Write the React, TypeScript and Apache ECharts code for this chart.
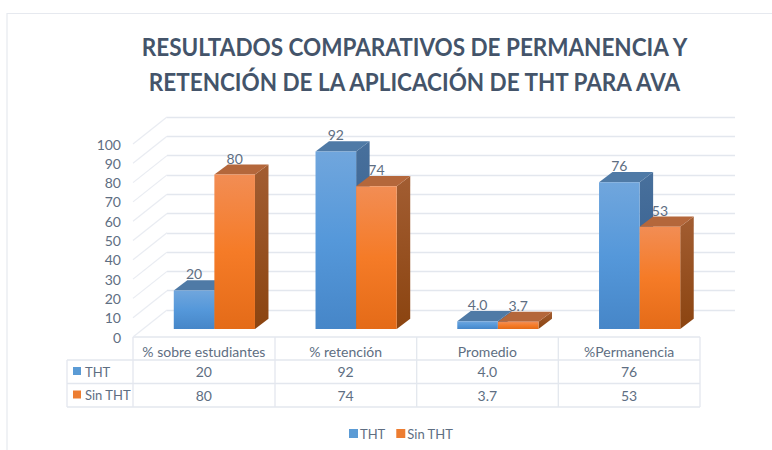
import React, { useEffect, useRef } from "react";
import * as echarts from "echarts";

const titleLines = ["RESULTADOS COMPARATIVOS DE PERMANENCIA Y", "RETENCIÓN DE LA APLICACIÓN DE THT PARA AVA"];
const categories = ["% sobre estudiantes", "% retención", "Promedio", "%Permanencia"];
const seriesNames = ["THT", "Sin THT"];
const thtValues = [20, 92, 4.0, 76];
const sinThtValues = [80, 74, 3.7, 53];
const thtLabels = ["20", "92", "4.0", "76"];
const sinThtLabels = ["80", "74", "3.7", "53"];
const yTicks = [0, 10, 20, 30, 40, 50, 60, 70, 80, 90, 100];

const FONT = "Lato";
const TEXT = "#5E6E82";
const GRID = "#E3E7EE";
const SWATCH = ["#5B9BD5", "#ED7D31"];

const vGrad = (stops: [number, string][]) =>
  new echarts.graphic.LinearGradient(0, 0, 0, 1, stops.map(([offset, color]) => ({ offset, color })));

const palettes = [
  {
    front: () => vGrad([[0, "#70A6DD"], [0.5, "#5598DA"], [1, "#4686C8"]]),
    top: "#4F7AA6",
    side: () => vGrad([[0, "#48709C"], [1, "#30598A"]]),
  },
  {
    front: () => vGrad([[0, "#F28D54"], [0.5, "#F57B27"], [1, "#E46B18"]]),
    top: "#B4673B",
    side: () => vGrad([[0, "#A25D32"], [1, "#8B4410"]]),
  },
];

const DEPTH_X = 13.5;
const DEPTH_Y = 10.2;
const BAR_W = 40.6;

const barRender = (which: number) => (_p: any, api: any) => {
  const idx = api.value(0);
  const val = api.value(1);
  const [cx, yTop] = api.coord([idx, val]);
  const [, y0] = api.coord([idx, 0]);
  const x0 = which === 0 ? cx - BAR_W : cx;
  const x1 = x0 + BAR_W;
  const p = palettes[which];
  return {
    type: "group",
    children: [
      {
        type: "polygon",
        shape: { points: [[x1, yTop], [x1 + DEPTH_X, yTop - DEPTH_Y], [x1 + DEPTH_X, y0 - DEPTH_Y], [x1, y0]] },
        style: { fill: p.side() },
      },
      {
        type: "polygon",
        shape: { points: [[x0, yTop], [x0 + DEPTH_X, yTop - DEPTH_Y], [x1 + DEPTH_X, yTop - DEPTH_Y], [x1, yTop]] },
        style: { fill: p.top },
      },
      { type: "rect", shape: { x: x0, y: yTop, width: BAR_W, height: y0 - yTop }, style: { fill: p.front() } },
    ],
  };
};

const labelRender = (which: number, texts: string[]) => (_p: any, api: any) => {
  const idx = api.value(0);
  const [cx, yTop] = api.coord([idx, api.value(1)]);
  return {
    type: "text",
    style: {
      x: which === 0 ? cx - BAR_W / 2 : cx + BAR_W / 2,
      y: yTop - 16.5,
      text: texts[idx],
      fill: TEXT,
      font: `14px ${FONT}`,
      textAlign: "center",
      textVerticalAlign: "middle",
    },
  };
};

const sideLineRender = (p: any, api: any) => {
  const [, y] = api.coord([0, api.value(0)]);
  const x = p.coordSys.x;
  return {
    type: "line",
    shape: { x1: x, y1: y, x2: x + 34, y2: y - 27 },
    style: { stroke: "#E9ECF2", lineWidth: 1.2 },
  };
};

const ROW_Y = [371.5, 395];
const tableRender = (_p: any, api: any) => {
  const idx = api.value(0);
  const row = api.value(1);
  const [cx] = api.coord([idx, 0]);
  const texts = row === 0 ? thtLabels : sinThtLabels;
  return {
    type: "text",
    style: {
      x: cx,
      y: ROW_Y[row],
      text: texts[idx],
      fill: TEXT,
      font: `14px ${FONT}`,
      textAlign: "center",
      textVerticalAlign: "middle",
    },
  };
};

const tableLines = () => {
  const line = (x1: number, y1: number, x2: number, y2: number) => ({
    type: "line",
    shape: { x1, y1, x2, y2 },
    style: { stroke: GRID, lineWidth: 1.3 },
    silent: true,
  });
  const out: any[] = [
    line(133, 337, 700, 337),
    line(67, 360, 700, 360),
    line(67, 383.5, 700, 383.5),
    line(67, 407, 700, 407),
    line(67, 360, 67, 407),
  ];
  [133, 275, 416.7, 558.3, 700].forEach((x) => out.push(line(x, 337, x, 407)));
  return out;
};

const rowHeaders = () =>
  seriesNames.flatMap((name, i) => [
    { type: "rect", shape: { x: 73, y: ROW_Y[i] - 4.5, width: 8, height: 8 }, style: { fill: SWATCH[i] }, silent: true },
    {
      type: "text",
      x: 85,
      y: ROW_Y[i],
      style: { text: name, fill: TEXT, font: `13px ${FONT}`, textAlign: "left", textVerticalAlign: "middle" },
      silent: true,
    },
  ]);

const titleElements = () =>
  titleLines.map((text, i) => ({
    type: "text",
    x: 414.5,
    y: 47 + i * 34.5,
    scaleX: 0.9,
    style: {
      text,
      fill: "#44546A",
      font: `bold 25px ${FONT}`,
      textAlign: "center",
      textVerticalAlign: "middle",
    },
    silent: true,
  }));

export default function App() {
  const ref = useRef<HTMLDivElement>(null);
  useEffect(() => {
    document.body.style.margin = "0";
    const chart = echarts.init(ref.current!, undefined, { renderer: "svg" });
    const hiddenX = (gridIndex: number) => ({
      type: "category" as const,
      gridIndex,
      data: categories,
      show: false,
    });
    const indexed = (vals: number[]) => vals.map((v, i) => [i, v]);
    chart.setOption({
      animation: false,
      backgroundColor: "#FFFFFF",
      legend: {
        data: seriesNames,
        left: 344,
        top: 422,
        icon: "rect",
        itemWidth: 9,
        itemHeight: 9,
        itemGap: 11,
        textStyle: { fontFamily: FONT, fontSize: 13, color: TEXT, padding: [0, 0, 0, -3] },
        selectedMode: false,
      },
      grid: [
        { left: 167, top: 117, width: 568, height: 193 },
        { left: 133, top: 144, width: 567, height: 193 },
        { left: 143.5, top: 136, width: 567, height: 193 },
      ],
      xAxis: [
        hiddenX(0),
        {
          type: "category",
          gridIndex: 1,
          data: categories,
          axisLine: { show: false },
          axisTick: { show: false },
          axisLabel: { color: TEXT, fontFamily: FONT, fontSize: 14, margin: 7, interval: 0 },
        },
        hiddenX(2),
      ],
      yAxis: [
        {
          type: "value",
          gridIndex: 0,
          min: 0,
          max: 100,
          interval: 10,
          axisLabel: { show: false },
          axisLine: { show: false },
          axisTick: { show: false },
          splitLine: { show: true, lineStyle: { color: GRID, width: 1.3 } },
        },
        {
          type: "value",
          gridIndex: 1,
          min: 0,
          max: 100,
          interval: 10,
          axisLine: { show: false },
          axisTick: { show: false },
          splitLine: { show: false },
          axisLabel: { color: TEXT, fontFamily: FONT, fontSize: 14, margin: 12 },
        },
        { type: "value", gridIndex: 2, min: 0, max: 100, interval: 10, show: false },
      ],
      graphic: {
        elements: [
          {
            type: "polyline",
            shape: { points: [[7, 450], [7, 13.5], [772, 13.5]] },
            style: { stroke: "#E6E9EF", lineWidth: 1.2, fill: "none" },
            silent: true,
          },
          ...titleElements(),
          ...tableLines(),
          ...rowHeaders(),
        ],
      },
      series: [
        {
          type: "custom",
          name: "walls",
          xAxisIndex: 1,
          yAxisIndex: 1,
          z: 1,
          data: yTicks.map((t) => [t]),
          encode: { y: 0 },
          renderItem: sideLineRender,
          silent: true,
        },
        {
          type: "custom",
          name: "labels2",
          xAxisIndex: 2,
          yAxisIndex: 2,
          z: 2,
          data: indexed(sinThtValues),
          renderItem: labelRender(1, sinThtLabels),
          silent: true,
        },
        {
          type: "custom",
          name: seriesNames[0],
          xAxisIndex: 2,
          yAxisIndex: 2,
          z: 3,
          data: indexed(thtValues),
          itemStyle: { color: SWATCH[0] },
          renderItem: barRender(0),
          silent: true,
        },
        {
          type: "custom",
          name: seriesNames[1],
          xAxisIndex: 2,
          yAxisIndex: 2,
          z: 4,
          data: indexed(sinThtValues),
          itemStyle: { color: SWATCH[1] },
          renderItem: barRender(1),
          silent: true,
        },
        {
          type: "custom",
          name: "labels1",
          xAxisIndex: 2,
          yAxisIndex: 2,
          z: 5,
          data: indexed(thtValues),
          renderItem: labelRender(0, thtLabels),
          silent: true,
        },
        {
          type: "custom",
          name: "table",
          xAxisIndex: 1,
          yAxisIndex: 1,
          z: 5,
          data: [
            ...thtValues.map((_, i) => [i, 0]),
            ...sinThtValues.map((_, i) => [i, 1]),
          ],
          renderItem: tableRender,
          silent: true,
        },
      ],
    });
    return () => chart.dispose();
  }, []);
  return <div ref={ref} style={{ width: 772, height: 450 }} />;
}
